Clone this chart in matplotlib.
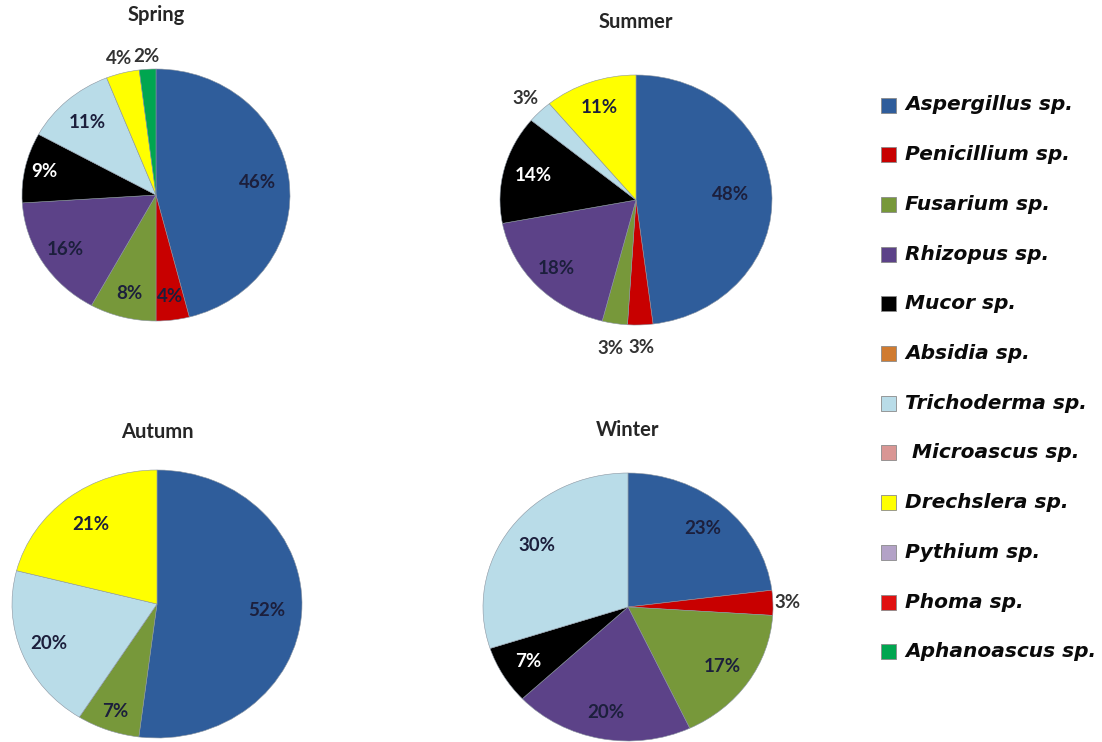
import matplotlib
matplotlib.use("Agg")
import matplotlib.pyplot as plt
from matplotlib.patches import Rectangle
import numpy as np

# ---------------- data ----------------
legend_names = ["Aspergillus sp.", "Penicillium sp.", "Fusarium sp.", "Rhizopus sp.",
                "Mucor sp.", "Absidia sp.", "Trichoderma sp.", " Microascus sp.",
                "Drechslera sp.", "Pythium sp.", "Phoma sp.", "Aphanoascus sp."]
legend_colors = ["#2F5D9B", "#C80000", "#77983A", "#5C4288", "#000000", "#D07B30",
                 "#B9DCE8", "#D99694", "#FFFF00", "#B3A2C7", "#E01010", "#00A650"]

spring_names = ["Aspergillus sp.", "Penicillium sp.", "Fusarium sp.", "Rhizopus sp.",
                "Mucor sp.", "Trichoderma sp.", "Drechslera sp.", "Aphanoascus sp."]
spring_values = [46, 4, 8, 16, 9, 11, 4, 2]

summer_names = ["Aspergillus sp.", "Penicillium sp.", "Fusarium sp.", "Rhizopus sp.",
                "Mucor sp.", "Trichoderma sp.", "Drechslera sp."]
summer_values = [48, 3, 3, 18, 14, 3, 11]

autumn_names = ["Aspergillus sp.", "Fusarium sp.", "Trichoderma sp.", "Drechslera sp."]
autumn_values = [52, 7, 20, 21]

winter_names = ["Aspergillus sp.", "Penicillium sp.", "Fusarium sp.", "Rhizopus sp.",
                "Mucor sp.", "Trichoderma sp."]
winter_values = [23, 3, 17, 20, 7, 30]

# label radial distances (style)
spring_dist = [0.76, 0.81, 0.81, 0.80, 0.85, 0.77, 1.12, 1.10]
summer_dist = [0.70, 1.18, 1.20, 0.80, 0.78, 1.15, 0.79]
autumn_dist = [0.76, 0.85, 0.80, 0.75]
winter_dist = [0.78, 1.10, 0.79, 0.80, 0.80, 0.78]

# ---------------- figure ----------------
W, H = 1102, 742
fig = plt.figure(figsize=(W / 100, H / 100), dpi=100)
fig.patch.set_facecolor("white")

color_map = dict(zip(legend_names, legend_colors))

LABEL_FONT = ["Lato", "DejaVu Sans"]


def px_axes(cx, cy, rx, ry):
    return fig.add_axes([(cx - rx) / W, (H - cy - ry) / H, 2 * rx / W, 2 * ry / H])


def draw_pie(title, names, values, dists, cx, cy, rx, ry, title_y):
    ax = px_axes(cx, cy, rx, ry)
    cols = [color_map[n] for n in names]
    wedges, _ = ax.pie(values, colors=cols, startangle=90, counterclock=False,
                       radius=1.0,
                       wedgeprops=dict(edgecolor="#8a94a0", linewidth=0.4))
    ax.set_aspect("auto")
    ax.set_xlim(-1, 1)
    ax.set_ylim(-1, 1)
    ax.axis("off")
    total = float(sum(values))
    for w, v, d, n in zip(wedges, values, dists, names):
        mid = np.deg2rad((w.theta1 + w.theta2) / 2.0)
        if d > 1.0:
            c = "#333333"
        elif n == "Mucor sp.":
            c = "white"
        else:
            c = "#1c1f3c"
        ax.text(d * np.cos(mid), d * np.sin(mid), f"{100 * v / total:.0f}%",
                ha="center", va="center", fontsize=13.5, fontweight="bold",
                family=LABEL_FONT, color=c, clip_on=False)
    fig.text(cx / W, 1 - title_y / H, title, ha="center", va="center",
             fontsize=14.5, fontweight="bold", family=LABEL_FONT, color="#262626")


draw_pie("Spring", spring_names, spring_values, spring_dist, 156, 195, 134, 126, 15)
draw_pie("Summer", summer_names, summer_values, summer_dist, 636, 200, 136, 125, 22)
draw_pie("Autumn", autumn_names, autumn_values, autumn_dist, 157, 604, 145, 134, 432)
draw_pie("Winter", winter_names, winter_values, winter_dist, 628, 607, 145, 134, 430)

# ---------------- legend ----------------
y0, dy = 105, 49.7
for i, (name, col) in enumerate(zip(legend_names, legend_colors)):
    y = y0 + i * dy
    fig.patches.append(Rectangle(((881) / W, 1 - (y + 7.5) / H), 15 / W, 15 / H,
                                 transform=fig.transFigure, facecolor=col,
                                 edgecolor="#8a8a8a", linewidth=0.6))
    fig.text(905 / W, 1 - y / H, name, ha="left", va="center", fontsize=14.5,
             fontweight="bold", style="italic", family="DejaVu Sans", color="#0a0a0a")

fig.savefig("out.png", dpi=100, facecolor="white")
